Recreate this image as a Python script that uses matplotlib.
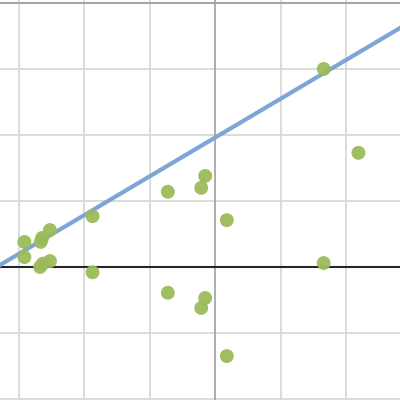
import numpy as np
import matplotlib.pyplot as plt

# point values
x_vals = [-2.91, -2.91, -2.52, -2.64, -2.66, -2.52, -2.67, -2.63, -1.87, -1.87,
          -0.72, -0.72, -0.21, -0.15, -0.21, -0.15, 0.18, 0.18, 1.66, 1.66, 2.19]
y_vals = [0.38, 0.15, 0.56, 0.44, 0.38, 0.09, 0.00, 0.05, 0.77, -0.08,
          1.14, -0.39, 1.20, 1.38, -0.62, -0.47, 0.71, -1.35, 3.00, 0.06, 1.73]

# trend line
intercept = 1.96
slope = 0.588

grid_x = [-3, -2, -1, 1, 2]
grid_y = [-2, -1, 1, 2, 3]

fig = plt.figure(figsize=(4, 4), dpi=100)
ax = fig.add_axes([0, 0, 1, 1])
ax.set_xlim(-215 / 65.5, 185 / 65.5)
ax.set_ylim(-133 / 66, 267 / 66)

for gx in grid_x:
    ax.axvline(gx, color='#d9d9d9', linewidth=1.3, zorder=0)
for gy in grid_y:
    ax.axhline(gy, color='#d9d9d9', linewidth=1.3, zorder=0)
ax.axvline(0, color='#a6a6a6', linewidth=1.3, zorder=1)
ax.axhline(4, color='#a6a6a6', linewidth=1.5, zorder=1)
ax.axhline(0, color='#262626', linewidth=1.5, zorder=1)

ax.axline((0, intercept), slope=slope, color='#7da5d6', linewidth=3, zorder=2)
ax.scatter(x_vals, y_vals, s=100, color='#9bbb59', alpha=0.95, edgecolors='none', zorder=3)

for s in ax.spines.values():
    s.set_visible(False)
ax.set_xticks([])
ax.set_yticks([])

plt.savefig('out.png', dpi=100)
